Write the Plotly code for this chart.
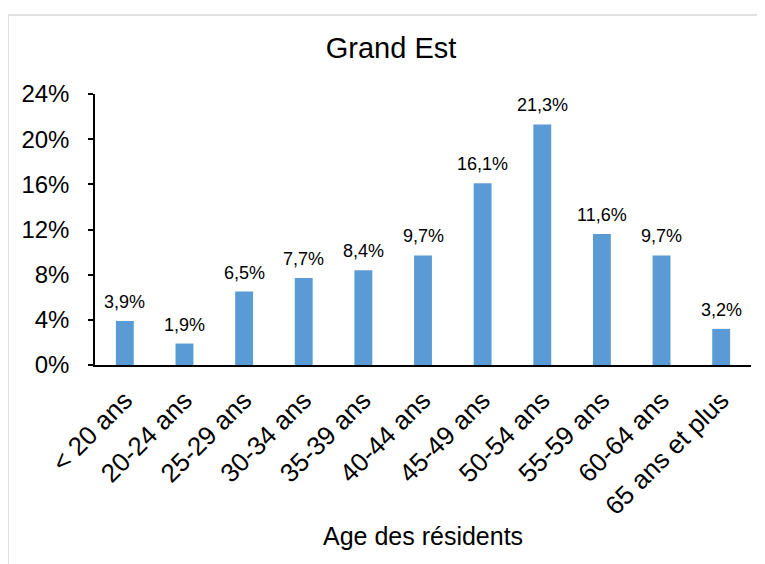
import plotly.graph_objects as go

categories = ["< 20 ans", "20-24 ans", "25-29 ans", "30-34 ans", "35-39 ans",
              "40-44 ans", "45-49 ans", "50-54 ans", "55-59 ans", "60-64 ans",
              "65 ans et plus"]
values = [3.9, 1.9, 6.5, 7.7, 8.4, 9.7, 16.1, 21.3, 11.6, 9.7, 3.2]
y_ticks = [0, 4, 8, 12, 16, 20, 24]

FONT = "Liberation Sans, Arial, sans-serif"

# the page body adds an 8px margin; figure sized to fit the window
W, H = 757, 556
OFF = 8
plot_l, plot_r, plot_t, plot_b = 95 - OFF, 751 - OFF, 94 - OFF, 365 - OFF
plot_w, plot_h = plot_r - plot_l, plot_b - plot_t

def px_to_paper_x(px):
    return (px - OFF - plot_l) / plot_w

def px_to_paper_y(py):
    return (plot_b - (py - OFF)) / plot_h

fig = go.Figure()
fig.add_trace(go.Bar(
    x=categories, y=values,
    marker=dict(color="#5B9BD5", line=dict(width=0)),
    hoverinfo="x+y",
))

for c, v in zip(categories, values):
    fig.add_annotation(
        x=c, y=v, text=f"{v:.1f}%".replace(".", ","),
        showarrow=False, yanchor="bottom", yshift=7,
        font=dict(family=FONT, size=18, color="#000000"),
    )

fig.add_annotation(
    x=0.5, y=px_to_paper_y(536), xref="paper", yref="paper",
    text="Age des résidents", showarrow=False,
    xanchor="center", yanchor="middle",
    font=dict(family=FONT, size=25, color="#000000"),
)

# outer chart border
fig.add_shape(
    type="rect", xref="paper", yref="paper",
    x0=px_to_paper_x(8), y0=px_to_paper_y(600),
    x1=px_to_paper_x(800), y1=px_to_paper_y(15),
    line=dict(color="#D9D9D9", width=1.5), fillcolor="rgba(0,0,0,0)",
    layer="below",
)

fig.update_layout(
    width=W, height=H,
    margin=dict(l=plot_l, r=W - plot_r, t=plot_t, b=H - plot_b),
    paper_bgcolor="white", plot_bgcolor="white",
    bargap=0.7,
    showlegend=False,
    title=dict(
        text="Grand Est", x=(391 - OFF) / W, xref="container", xanchor="center",
        y=1 - (48 - OFF) / H, yref="container", yanchor="middle",
        font=dict(family=FONT, size=29, color="#000000"),
    ),
    xaxis=dict(
        showline=True, linecolor="#000000", linewidth=1.5,
        ticks="", tickangle=-45, ticklabelstandoff=8,
        tickfont=dict(family=FONT, size=26, color="#000000"),
        showgrid=False, zeroline=False,
    ),
    yaxis=dict(
        range=[0, 24], tickvals=y_ticks,
        ticktext=[f"{t}%" for t in y_ticks],
        showline=True, linecolor="#000000", linewidth=1.5,
        ticks="outside", ticklen=5, tickcolor="#000000", tickwidth=1.5,
        ticklabelstandoff=14,
        tickfont=dict(family=FONT, size=24, color="#000000"),
        showgrid=False, zeroline=False,
    ),
)

fig.write_html("out.html")
